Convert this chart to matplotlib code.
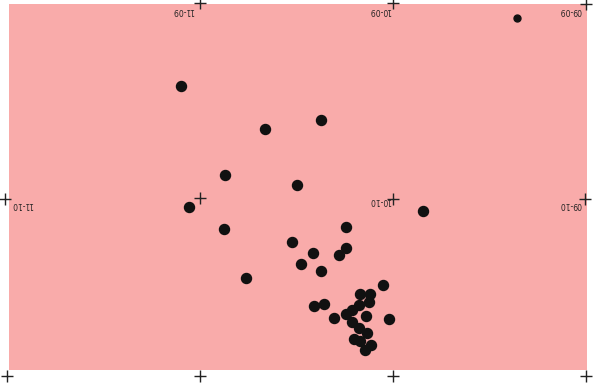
import numpy as np
import matplotlib
matplotlib.use('Agg')
import matplotlib.pyplot as plt

# plate coordinates (pixels from the top-left corner of the scan)
dot_x = [180.7, 264.7, 321.0, 224.7, 297.3, 189.3, 224.0, 292.3, 345.7, 346.0,
         339.3, 312.7, 301.0, 321.3, 246.3, 383.3, 359.7, 370.3, 369.3, 359.0,
         314.3, 324.3, 352.0, 346.0, 366.3, 388.7, 334.0, 352.0, 358.7, 366.7,
         354.3, 360.3, 370.7, 365.3, 423.0]
dot_y = [86.0, 128.7, 119.7, 175.3, 185.3, 207.3, 229.0, 242.0, 226.7, 248.0,
         255.3, 253.0, 263.7, 270.7, 278.0, 285.3, 294.0, 294.3, 302.3, 305.3,
         306.0, 303.7, 310.3, 314.3, 316.0, 319.0, 318.3, 322.0, 328.3, 333.0,
         338.7, 341.3, 345.0, 349.7, 211.0]
faint_x = [517.0]
faint_y = [18.0]

# reference crosses
cross_x = [200, 393, 586, 5, 200, 393, 585, 7, 200, 393, 586]
cross_y = [3, 3, 4, 199, 198, 199, 199, 376, 376, 376, 376]

# upside-down grid labels
label_text = ['11-09', '10-09', '09-09', '11-10', '10-10', '09-10']
label_x = [183, 380, 570, 22, 380, 570]
label_y = [10, 10, 10, 205, 200, 205]

fig = plt.figure(figsize=(5.97, 3.83), dpi=100)
ax = fig.add_axes([0, 0, 1, 1])
ax.set_xlim(0, 597)
ax.set_ylim(383, 0)
ax.axis('off')
fig.patch.set_facecolor('white')

ax.add_patch(plt.Rectangle((9, 4), 578, 366, facecolor='#f9abaa',
                           edgecolor='none', zorder=0))

ax.scatter(dot_x, dot_y, s=52, color='#111111', zorder=3)
ax.scatter(faint_x, faint_y, s=25, color='#111111', zorder=3)
ax.scatter(cross_x, cross_y, marker='+', s=80, color='#222222',
           linewidths=1.0, zorder=4)

for t, x, y in zip(label_text, label_x, label_y):
    ax.text(x, y, t, rotation=180, fontsize=5.5, color='#222222',
            ha='center', va='center', zorder=4)

fig.savefig('out.png', dpi=100)
